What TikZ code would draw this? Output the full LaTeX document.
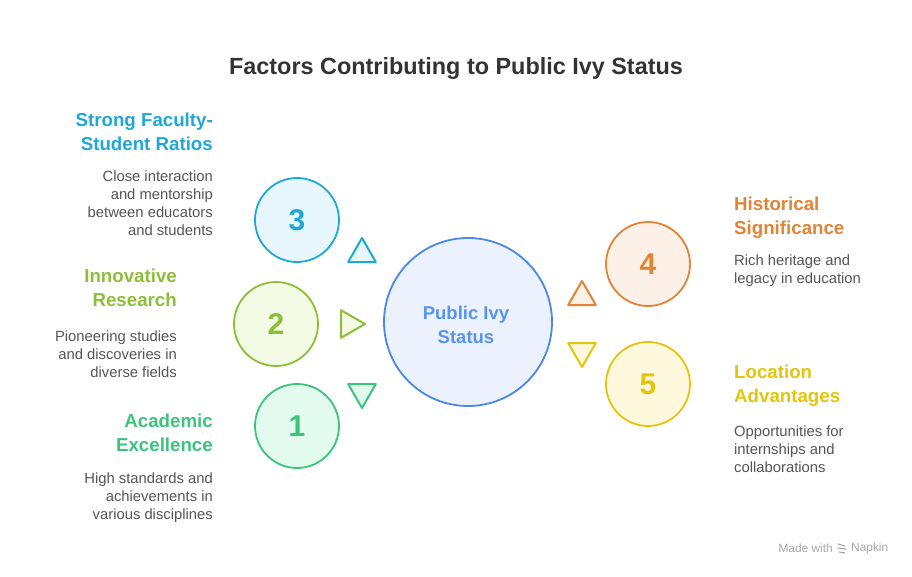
\documentclass[tikz,border=0pt]{standalone}
\usepackage{fontspec}
\setmainfont{Liberation Sans}
\usepackage{tikz}
\usetikzlibrary{calc}
\definecolor{titlegray}{HTML}{333333}
\definecolor{descgray}{HTML}{555555}
\definecolor{cyanline}{HTML}{1EA8D8}
\definecolor{cyanfill}{HTML}{E8F7FD}
\definecolor{limeline}{HTML}{8DBE3A}
\definecolor{limefill}{HTML}{F3FBE4}
\definecolor{greenline}{HTML}{3CC47C}
\definecolor{greenfill}{HTML}{E3FAEE}
\definecolor{orangeline}{HTML}{E08436}
\definecolor{orangefill}{HTML}{FDF0E6}
\definecolor{yellowline}{HTML}{E2C60E}
\definecolor{yellowfill}{HTML}{FEF8DC}
\definecolor{blueline}{HTML}{4C86E6}
\definecolor{bluefill}{HTML}{EBF2FE}
\definecolor{bluetext}{HTML}{5A93EE}
\definecolor{napkingray}{HTML}{A8A8A8}
\tikzset{
  numcircle/.style={circle,draw=#1line,fill=#1fill,line width=1.8pt,minimum size=84pt,inner sep=0pt,
    text=#1line,font=\bfseries\fontsize{30}{30}\selectfont},
  headtext/.style={inner sep=0pt,text=#1line,font=\bfseries\fontsize{18.7}{24}\selectfont},
  desctext/.style={inner sep=0pt,text=descgray,font=\fontsize{14.8}{18}\selectfont},
  pointer/.style={draw=#1line,fill=#1fill,line width=2pt,line join=round},
  tri/.pic={\path[pic actions] (-90:16) -- (30:16) -- (150:16) -- cycle;}
}
\begin{document}
\begin{tikzpicture}[x=1pt,y=-1pt]
\useasboundingbox[fill=white] (0,0) rectangle (912,576);

\node[inner sep=0pt,text=titlegray,font=\bfseries\fontsize{23.4}{26}\selectfont] (title) at (456,68) {Factors Contributing to Public Ivy Status};

% centre
\node[circle,draw=blueline,fill=bluefill,line width=1.8pt,minimum size=168pt] (ivy) at (468,322) {};
\node[align=center,inner sep=0pt,text=bluetext,font=\bfseries\fontsize{18.5}{24}\selectfont] (ivytext) at (466,325) {Public Ivy\\Status};

% numbered circles
\node[numcircle=cyan] (n3) at (297,220) {3};
\node[numcircle=lime] (n2) at (276,324) {2};
\node[numcircle=green] (n1) at (297,426) {1};
\node[numcircle=orange] (n4) at (648,264) {4};
\node[numcircle=yellow] (n5) at (648,384) {5};

% pointers
\pic[pointer=cyan] at (362,254) {tri};
\pic[pointer=lime,rotate=-90] at (349,324) {tri};
\pic[pointer=green,rotate=180] at (362,392) {tri};
\pic[pointer=orange] at (582,297) {tri};
\pic[pointer=yellow,rotate=180] at (582,351) {tri};

% left texts
\node[headtext=cyan,anchor=east,align=right] (h3) at (213,132) {Strong Faculty-\\Student Ratios};
\node[desctext,anchor=east,align=right] (d3) at (213,203) {Close interaction\\and mentorship\\between educators\\and students};
\node[headtext=lime,anchor=east,align=right] (h2) at (177,288) {Innovative\\Research};
\node[desctext,anchor=east,align=right] (d2) at (177,354) {Pioneering studies\\and discoveries in\\diverse fields};
\node[headtext=green,anchor=east,align=right] (h1) at (213,433) {Academic\\Excellence};
\node[desctext,anchor=east,align=right] (d1) at (213,498) {High standards and\\achievements in\\various disciplines};

% right texts
\node[headtext=orange,anchor=west,align=left] (h4) at (734,218) {Historical\\Significance};
\node[desctext,anchor=west,align=left] (d4) at (734,271) {Rich heritage and\\legacy in education};
\node[headtext=yellow,anchor=west,align=left] (h5) at (734,386) {Location\\Advantages};
\node[desctext,anchor=west,align=left] (d5) at (734,449) {Opportunities for\\internships and\\collaborations};

% footer
\node[inner sep=0pt,text=napkingray,font=\fontsize{11.9}{12}\selectfont,anchor=east] (made) at (833,548) {Made with};
\node[inner sep=0pt,text=napkingray,font=\fontsize{11.9}{12}\selectfont,anchor=west] (napkin) at (851,548) {Napkin};
\coordinate (logo) at (842,548);
\draw[napkingray,line width=1.1pt,line cap=round]
  ($(logo)+(-4,-4)$) -- ($(logo)+(3,-2)$)
  ($(logo)+(-4,0)$) -- ($(logo)+(4,1)$)
  ($(logo)+(-3,4)$) -- ($(logo)+(3,5)$);
\end{tikzpicture}
\end{document}
